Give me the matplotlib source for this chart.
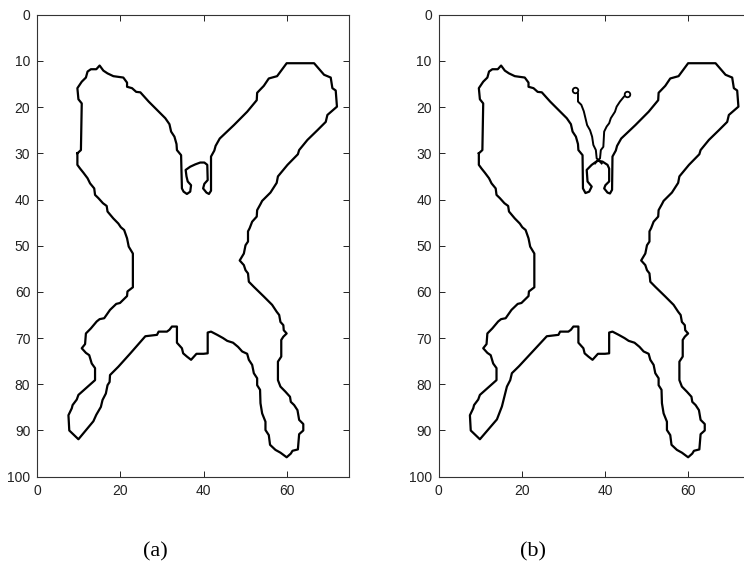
import matplotlib
matplotlib.use("Agg")
import matplotlib.pyplot as plt

# outline pieces, (x, y) in image coordinates (y grows downward)
upper_left = [(9.65, 30), (10.5, 29.3), (10.7, 19.2), (9.9, 18.3), (9.65, 15.9), (10.7, 14.5),
              (11.7, 13.6), (12.1, 12.3), (12.9, 11.8), (14.2, 11.8), (15, 11), (15.9, 12.1),
              (16.9, 12.7), (18.3, 13.3), (20.7, 13.6), (21.6, 14.7), (21.6, 15.6), (22.8, 15.9),
              (23.8, 16.7), (24.8, 16.8), (25.7, 17.7), (26.8, 18.8), (28.8, 20.6), (30.8, 22.4),
              (31.8, 23.7), (32.2, 25.3), (33, 26.4), (33.5, 28), (33.6, 29.3), (34.6, 30.4)]

body_a = [(34.8, 37.6), (35.2, 38.3), (36, 38.8), (36.8, 38.3), (37, 36.9), (36.2, 36.1),
          (35.9, 35), (35.7, 33.6), (36.8, 32.9), (38, 32.4), (39.2, 32), (40.2, 32),
          (40.9, 32.5), (41, 35.8), (40.2, 36.6), (39.9, 37.6), (40.7, 38.5), (41.3, 38.8),
          (41.8, 38.1)]

body_b = [(34.7, 37.6), (35.3, 38.6), (36.2, 38.3), (36.8, 37.2), (35.8, 36.1), (35.6, 33.6),
          (36.8, 32.5), (38.2, 31.6), (39.4, 31.8), (40.6, 32.5), (41, 33.3), (41, 36.1),
          (40.1, 36.9), (39.8, 37.6), (40.6, 38.5), (41.2, 38.7), (41.7, 37.9)]

upper_right = [(41.8, 30.7), (42.6, 29.4), (42.9, 28.4), (43.9, 26.8), (47.3, 23.9), (50.5, 21),
               (52.8, 18.5), (52.9, 16.9), (54.5, 15.4), (55.7, 13.8), (57.7, 13.3), (60, 10.5),
               (66.6, 10.5), (69, 13), (70.6, 13.6), (71, 15.9), (71.8, 16.4), (72.1, 19.9),
               (69.8, 21.7), (69.4, 23.2), (67.4, 25), (65, 27.1), (63, 29.3), (62.7, 30.2),
               (60.2, 32.5), (57.9, 35), (57.6, 36.4), (56.1, 38.5), (54.1, 40.3), (53.7, 41),
               (52.9, 42.3), (52.8, 43.7), (51.7, 44.8), (51.1, 46.2), (50.7, 46.9), (50.7, 49.1),
               (50.1, 49.9), (49.7, 51.7), (48.7, 53.2)]

lower_right = [(49.7, 54.2), (50.1, 55.3), (50.7, 56), (50.9, 57.8), (52.1, 58.9), (54.5, 61),
               (56.5, 62.8), (57.6, 64.3), (58.2, 65), (58.5, 66.5), (59.2, 67.2), (59.3, 68.3),
               (60, 69), (59.2, 69.7), (58.7, 70.4), (58.7, 74), (57.9, 75.1), (57.9, 79.1),
               (58.5, 80.5), (59.7, 81.6), (60.8, 82.7), (61, 83.8), (61.8, 84.5), (62.6, 85.6),
               (63, 87.7), (64, 88.6), (64, 90), (63, 90.8), (62.7, 94.1), (61.4, 94.4),
               (61, 95), (60, 95.8), (58.5, 94.8), (57.3, 94.2), (56, 93.1), (55.7, 91),
               (54.9, 89.9), (54.9, 88.1), (54.1, 86.3), (53.7, 84.1), (53.6, 81.2), (52.9, 80.2),
               (52.9, 78.7), (52.1, 77.6), (51.7, 75.8), (50.9, 74.7), (50.5, 73.4)]

tail = [(49.3, 72.9), (48.3, 71.9), (47.1, 71), (45.7, 70.6), (44.7, 70), (43.3, 69.3),
        (41.8, 68.6), (41, 68.8), (41, 73.3), (40, 73.4), (38.3, 73.4), (37, 74.7), (36, 74),
        (35.1, 73.3), (34.8, 72.2), (33.6, 71), (33.6, 67.5), (32.4, 67.5), (31.8, 68.2),
        (31.2, 68.6), (29.2, 68.6), (28.8, 69.3), (26, 69.6)]

lower_left_a = [(22.4, 73.3), (19.5, 76.2), (17.5, 78), (17.4, 79.5), (16.9, 80.2), (16.5, 82),
                (15.7, 83.4), (15.3, 84.9), (14.2, 86.6), (13.5, 88), (9.9, 91.9)]

lower_left_b = [(22.2, 73.3), (19.3, 76.1), (17.6, 77.6), (17.2, 79.1), (16.4, 80.5),
                (15.2, 84.8), (14, 87.6), (9.9, 91.9)]

left_side = [(7.7, 90), (7.5, 86.7), (8.3, 85.2), (8.5, 84.5), (9.5, 83.3), (9.9, 82.3),
             (13.9, 79.1), (13.9, 76.5), (13.1, 75.5), (12.5, 73.7), (11.7, 73.2), (10.7, 72.2),
             (11.5, 71.3), (11.7, 69), (12.9, 67.9), (14.3, 66.4), (15, 65.9), (16.1, 65.7),
             (17.5, 63.9), (19, 62.6), (19.9, 62.4), (21.6, 60.9), (21.7, 59.9), (23, 59),
             (23, 51.7), (22, 50.2), (21.6, 48.4), (20.9, 46.6), (20.1, 46), (19.5, 45.2),
             (18.3, 44.1), (16.9, 42.6), (16.7, 41.4), (15.8, 40.8), (14.7, 39.7), (13.9, 39),
             (13.7, 37.6), (12.7, 36.5), (12.1, 35.4), (11.1, 34.2), (10.3, 33.3), (9.65, 32.5),
             (9.65, 30)]

antenna_left = [(32.9, 16.2), (33.5, 17), (33.5, 18.8), (34.3, 19.5), (34.9, 20.9), (35.3, 22.4),
                (35.7, 23.9), (36.4, 25), (36.9, 26.4), (37.2, 28.2), (37.8, 29.3), (38, 31.1),
                (38.6, 31.6), (39.2, 32.2)]
antenna_right = [(45.2, 17.2), (44.6, 17.7), (43.6, 18.8), (42.8, 19.9), (42.4, 21), (41.4, 22.4),
                 (41, 23.5), (40.4, 24.2), (39.8, 25.3), (39.6, 28.6), (39, 29.3), (38.8, 31.1),
                 (38.2, 31.6), (37.6, 32.2)]

panel_labels = ["(a)", "(b)"]


def outline(body, lower_left):
    pts = upper_left + body + upper_right + lower_right + tail + lower_left + left_side
    return [p[0] for p in pts], [p[1] for p in pts]


def style_axes(ax):
    ax.set_xlim(0, 75)
    ax.set_ylim(100, 0)
    ax.set_xticks([0, 20, 40, 60])
    ax.set_yticks(range(0, 101, 10))
    ax.tick_params(direction="in", length=4, width=0.7, top=True, right=True,
                   labelsize=10, pad=5, colors="#222222")
    for s in ax.spines.values():
        s.set_linewidth(0.8)
        s.set_color("#333333")
    for lab in ax.get_xticklabels() + ax.get_yticklabels():
        lab.set_fontfamily("Liberation Sans")


fig = plt.figure(figsize=(7.44, 5.75), dpi=100)
ax1 = fig.add_axes([0.0501, 0.171, 0.419, 0.8034])
ax2 = fig.add_axes([0.5897, 0.171, 0.419, 0.8034])

x, y = outline(body_a, lower_left_a)
ax1.plot(x, y, color="black", lw=1.6)

x, y = outline(body_b, lower_left_b)
ax2.plot(x, y, color="black", lw=1.6)
for ant in (antenna_left, antenna_right):
    ax2.plot([p[0] for p in ant], [p[1] for p in ant], color="black", lw=1.4)
    ax2.plot(ant[0][0], ant[0][1], "o", ms=4, mfc="white", mec="black", mew=1.3)

for ax in (ax1, ax2):
    style_axes(ax)

fig.text(155 / 744, 1 - 552 / 575, panel_labels[0], ha="center", va="center",
         fontsize=16, family="Liberation Serif")
fig.text(533 / 744, 1 - 552 / 575, panel_labels[1], ha="center", va="center",
         fontsize=16, family="Liberation Serif")

fig.savefig("out.png", dpi=100)
